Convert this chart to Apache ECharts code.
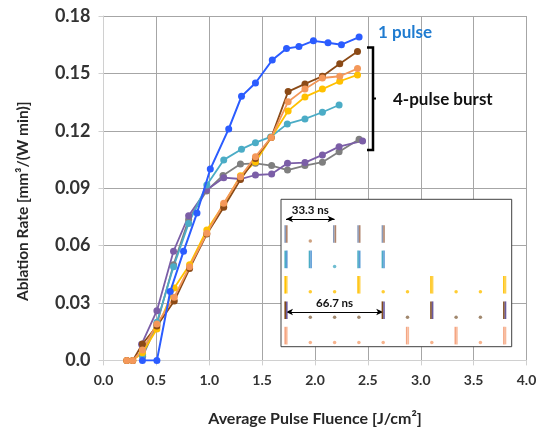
<!DOCTYPE html>
<html>
<head>
<meta charset="utf-8">
<script src="https://cdn.jsdelivr.net/npm/echarts@6/dist/echarts.min.js"></script>
<style>html,body{margin:0;padding:0;background:#fff;}#c{width:536px;height:430px;}</style>
</head>
<body>
<div id="c"></div>
<script>
// ---------- data ----------
const xTickLabels = ['0.0','0.5','1.0','1.5','2.0','2.5','3.0','3.5','4.0'];
const yTickLabels = ['0.0','0.03','0.06','0.09','0.12','0.15','0.18'];

const blueX = [0.368,0.505,0.631,0.757,0.884,1.010,1.184,1.305,1.437,1.596,1.731,1.848,1.985,2.123,2.250,2.417];
const blueY = [0,0,0.036,0.057,0.077,0.100,0.121,0.138,0.145,0.157,0.163,0.164,0.167,0.166,0.165,0.169];

const tealX = [0.37,0.505,0.662,0.805,0.977,1.137,1.305,1.437,1.58,1.738,1.905,2.07,2.228];
const tealY = [0.003,0.020,0.049,0.0716,0.0917,0.1048,0.1104,0.1138,0.1168,0.1236,0.1262,0.1297,0.1335];

const grayX = [0.37,0.505,0.662,0.805,0.975,1.13,1.295,1.437,1.59,1.74,1.905,2.07,2.228,2.417];
const grayY = [0.002,0.019,0.050,0.0736,0.0886,0.0967,0.1026,0.1030,0.1018,0.0995,0.1018,0.1036,0.1091,0.1156];

const purpleX = [0.36,0.505,0.662,0.805,0.975,1.137,1.295,1.437,1.59,1.74,1.905,2.07,2.228,2.45];
const purpleY = [0.0084,0.026,0.057,0.0756,0.0891,0.0955,0.0948,0.0969,0.0974,0.1030,0.1034,0.1074,0.1117,0.1147];

const burstX = [0.22,0.277,0.368,0.505,0.669,0.814,0.977,1.137,1.295,1.437,1.586,1.746,1.905,2.070,2.234,2.402];
const brownY = [0,0,0.0086,0.018,0.031,0.048,0.066,0.080,0.0945,0.1055,0.1165,0.1405,0.1445,0.1485,0.155,0.1614];
const salmonY = [0,0,0.0054,0.019,0.033,0.049,0.0664,0.0821,0.096,0.1065,0.1165,0.1352,0.1419,0.1476,0.1485,0.1525];
const goldY = [0,0,0.004,0.0164,0.0378,0.050,0.0682,0.0815,0.0965,0.1037,0.1165,0.1304,0.1377,0.1418,0.1459,0.1492];

// inset: pulse slots (16.7 ns apart) per row
const insetPulseSlots = [[0,2,3,4],[0,1,3,4],[0,3,6,9],[0,4,6,9],[0,5,7,9]];
const insetDotSlots = [[1],[2],[1,2,4,5,7,8],[1,2,3,5,7,8],[1,2,3,4,6,8]];
const insetArrow1 = [0,2];   // 33.3 ns
const insetArrow2 = [0,4];   // 66.7 ns

// ---------- build ----------
const zip = (xs, ys) => xs.map((x, i) => [x, ys[i]]);
const FONT = 'Lato';

const barColA = ['#8a9ab8','#4bacc6','#ffc000','#7f4a1c','#f4a582'];
const barColB = ['#b0846c','#5b9bd5','#ffd24d','#6a5a9e','#f8b99a'];
const dotCol = ['#c08a60','#4bacc6','#ffc000','#8a6a4a','#f5a070'];

const barData = [];
insetPulseSlots.forEach((row, r) => row.forEach(k => barData.push([k, r])));
const dotData = [];
insetDotSlots.forEach((row, r) => row.forEach(k => dotData.push([k, r])));

function lineSeries(name, data, color, width, z) {
  return {
    name, type: 'line', data, xAxisIndex: 0, yAxisIndex: 0,
    symbol: 'circle', symbolSize: 7, z: z || 2,
    lineStyle: { color, width: width || 1.8 },
    itemStyle: { color }
  };
}

const chart = echarts.init(document.getElementById('c'), null, { renderer: 'canvas' });
chart.setOption({
  animation: false,
  backgroundColor: '#fff',
  grid: [
    { left: 103.5, right: 9.5, top: 16, bottom: 69.6, containLabel: false, outerBoundsMode: 'none' },
    { left: 281, top: 199.3, width: 230.7, height: 147.4, show: true, backgroundColor: '#fff', borderColor: '#404040', borderWidth: 1, z: 5, containLabel: false, outerBoundsMode: 'none' }
  ],
  xAxis: [
    {
      type: 'value', min: 0, max: 4, interval: 0.5, gridIndex: 0,
      name: 'Average Pulse Fluence [J/cm²]', nameLocation: 'middle', nameGap: 50,
      nameTextStyle: { fontFamily: FONT, fontWeight: 'bold', fontSize: 16, color: '#262626' },
      axisLine: { show: true, lineStyle: { color: '#d0d0d0' } },
      axisTick: { show: true, length: 5, lineStyle: { color: '#d0d0d0' } },
      axisLabel: { fontFamily: FONT, fontWeight: 'bold', fontSize: 14, color: '#333', margin: 13,
        formatter: v => xTickLabels[Math.round(v / 0.5)] },
      splitLine: { show: true, lineStyle: { color: '#a6a6a6', width: 1 } }
    },
    { type: 'value', gridIndex: 1, min: -0.206, max: 9.288, show: false }
  ],
  yAxis: [
    {
      type: 'value', min: 0, max: 0.18, interval: 0.03, gridIndex: 0,
      name: 'Ablation Rate [mm³/(W min)]', nameLocation: 'middle', nameGap: 73,
      nameTextStyle: { fontFamily: FONT, fontWeight: 'bold', fontSize: 15.5, color: '#262626', padding: [0, 26, 0, 0] },
      axisLine: { show: true, lineStyle: { color: '#d0d0d0' } },
      axisTick: { show: true, length: 5, lineStyle: { color: '#d0d0d0' } },
      axisLabel: { fontFamily: FONT, fontWeight: 'bold', fontSize: 18, color: '#333', margin: 13,
        formatter: v => yTickLabels[Math.round(v / 0.03)] },
      splitLine: { show: true, lineStyle: { color: '#a6a6a6', width: 1 } }
    },
    { type: 'value', gridIndex: 1, min: -1.366, max: 4.437, inverse: true, show: false }
  ],
  series: [
    lineSeries('gray', zip(grayX, grayY), '#7f7f7f', 1.8),
    lineSeries('purple', zip(purpleX, purpleY), '#7b5ea7', 1.8),
    lineSeries('teal', zip(tealX, tealY), '#4bacc6', 1.8),
    lineSeries('gold', zip(burstX, goldY), '#ffc000', 1.8),
    lineSeries('brown', zip(burstX, brownY), '#8b4a16', 1.8),
    lineSeries('salmon', zip(burstX, salmonY), '#f4985a', 1.8),
    lineSeries('1 pulse', zip(blueX, blueY), '#2b5cff', 2, 3),
    {
      type: 'custom', xAxisIndex: 1, yAxisIndex: 1, z: 10, data: barData,
      renderItem: (params, api) => {
        const r = api.value(1);
        const p = api.coord([api.value(0), r]);
        return { type: 'group', children: [
          { type: 'rect', shape: { x: p[0] - 1.6, y: p[1] - 8.8, width: 1.6, height: 17.6 }, style: { fill: barColA[r] } },
          { type: 'rect', shape: { x: p[0], y: p[1] - 8.8, width: 1.6, height: 17.6 }, style: { fill: barColB[r] } }
        ] };
      },
      markLine: {
        silent: true, symbol: ['arrow', 'arrow'], symbolSize: [5, 7],
        lineStyle: { color: '#000', width: 1, type: 'solid' },
        label: { show: true, position: 'middle', formatter: '{b}', fontFamily: FONT, fontWeight: 'bold', fontSize: 11.5, color: '#111', distance: 3 },
        data: [
          [{ coord: [insetArrow1[0], -0.59], name: '33.3 ns' }, { coord: [insetArrow1[1], -0.59] }],
          [{ coord: [insetArrow2[0], 3.07], name: '66.7 ns' }, { coord: [insetArrow2[1], 3.07] }]
        ]
      }
    },
    {
      type: 'scatter', xAxisIndex: 1, yAxisIndex: 1, z: 10, data: dotData,
      symbol: 'circle', symbolSize: 3.5, symbolOffset: [0, 7],
      itemStyle: { color: p => dotCol[p.data[1]] }
    }
  ],
  graphic: [
    { type: 'text', left: 378, top: 24, z: 20, style: { text: '1 pulse', fill: '#1f7bd0', font: 'bold 17px Lato' } },
    { type: 'text', left: 393, top: 91, z: 20, style: { text: '4-pulse burst', fill: '#111', font: 'bold 17px Lato' } },
    { type: 'polyline', z: 20, shape: { points: [[367, 47.5], [373, 47.5], [373, 150], [367, 150]] }, style: { stroke: '#000', lineWidth: 2.5, fill: null } },
    { type: 'line', z: 20, shape: { x1: 373, y1: 98.5, x2: 376, y2: 98.5 }, style: { stroke: '#000', lineWidth: 2 } }
  ]
});
</script>
</body>
</html>
